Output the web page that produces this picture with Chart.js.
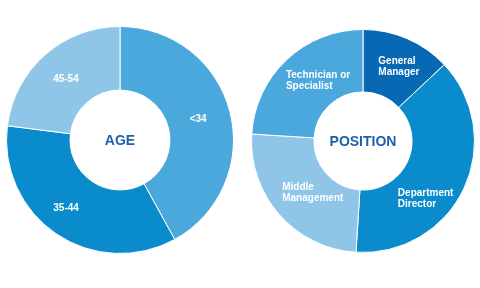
<!DOCTYPE html>
<html>
<head>
<meta charset="utf-8">
<script src="https://cdn.jsdelivr.net/npm/chart.js@4/dist/chart.umd.min.js"></script>
<style>
    html, body { margin: 0; padding: 0; background: #fff; }
    #wrap { position: relative; width: 480px; height: 288px; }
    #ageBox { position: absolute; left: 6px; top: 26px; width: 228px; height: 228px; }
    #posBox { position: absolute; left: 251px; top: 29px; width: 224px; height: 224px; }
</style>
</head>
<body>
<div id="wrap">
    <div id="ageBox"><canvas id="ageChart"></canvas></div>
    <div id="posBox"><canvas id="posChart"></canvas></div>
</div>
<script>
// age groups
const ageLabels = [['<34'], ['35-44'], ['45-54']];
const ageValues = [42, 35, 23];
const ageColors = ['#4aa8dc', '#0a8ccc', '#8fc6e8'];

// position
const positionLabels = [['General', 'Manager'], ['Department', 'Director'], ['Middle', 'Management'], ['Technician or', 'Specialist']];
const positionValues = [13, 38, 25, 24];
const positionColors = ['#0868b4', '#0a8ccc', '#8fc6e8', '#4aa8dc'];

const FONT = '"Liberation Sans", Arial, sans-serif';

// white labels inside each slice + title in the hole
const donutText = {
    id: 'donutText',
    afterDatasetsDraw(chart, args, opts) {
        const ctx = chart.ctx;
        const meta = chart.getDatasetMeta(0);
        ctx.save();
        ctx.fillStyle = '#ffffff';
        ctx.font = 'bold 10px ' + FONT;
        ctx.textAlign = 'left';
        ctx.textBaseline = 'middle';
        meta.data.forEach(function (arc, i) {
            const pos = arc.tooltipPosition();
            const lines = chart.data.labels[i];
            const nudge = (opts.nudge && opts.nudge[i]) || [0, 0];
            const w = Math.max.apply(null, lines.map(l => ctx.measureText(l).width));
            const lh = 11;
            const x = pos.x - w / 2 + nudge[0];
            lines.forEach(function (line, j) {
                ctx.fillText(line, x, pos.y + nudge[1] + (j - (lines.length - 1) / 2) * lh);
            });
        });
        const c = meta.data[0];
        ctx.fillStyle = '#1d62a8';
        ctx.font = 'bold 14px ' + FONT;
        ctx.textAlign = 'center';
        ctx.fillText(opts.title, c.x, c.y + 1);
        ctx.restore();
    }
};

function makeDonut(id, labels, values, colors, title, nudge) {
    new Chart(document.getElementById(id).getContext('2d'), {
        type: 'doughnut',
        data: {
            labels: labels,
            datasets: [{
                data: values,
                backgroundColor: colors,
                borderColor: '#ffffff',
                borderWidth: 1,
                hoverOffset: 0
            }]
        },
        options: {
            responsive: true,
            maintainAspectRatio: false,
            animation: false,
            cutout: '44%',
            layout: { padding: 0 },
            events: [],
            plugins: {
                legend: { display: false },
                tooltip: { enabled: false },
                donutText: { title: title, nudge: nudge }
            }
        },
        plugins: [donutText]
    });
}

makeDonut('ageChart', ageLabels, ageValues, ageColors, 'AGE', [[-1, 0], [-8, 1], [0, 1]]);
makeDonut('posChart', positionLabels, positionValues, positionColors, 'POSITION', [[4, -1], [-10, 24], [10, -1], [10, -2]]);
</script>
</body>
</html>
